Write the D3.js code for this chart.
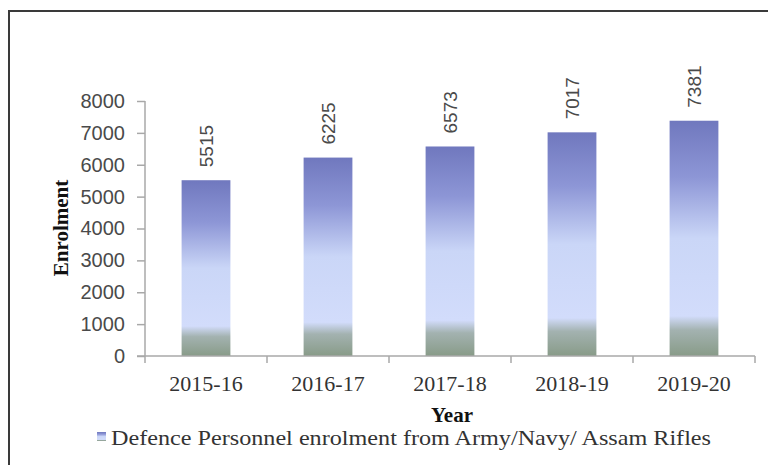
<!DOCTYPE html>
<html>
<head>
<meta charset="utf-8">
<script src="https://cdn.jsdelivr.net/npm/d3@7"></script>
<style>
  html, body { margin: 0; padding: 0; background: #fff; }
  svg { display: block; }
</style>
</head>
<body>
<svg id="chart" width="768" height="465"></svg>
<script>
const categories = ["2015-16", "2016-17", "2017-18", "2018-19", "2019-20"];
const values = [5515, 6225, 6573, 7017, 7381];
const yTicks = [0, 1000, 2000, 3000, 4000, 5000, 6000, 7000, 8000];
const seriesName = "Defence Personnel enrolment from Army/Navy/ Assam Rifles";
const xTitle = "Year";
const yTitle = "Enrolment";

const svg = d3.select("#chart");

// outer border
svg.append("rect")
  .attr("x", 9).attr("y", 11)
  .attr("width", 800).attr("height", 500)
  .attr("fill", "#fff")
  .attr("stroke", "#3a3a3a").attr("stroke-width", 2);

const defs = svg.append("defs");
const grad = defs.append("linearGradient")
  .attr("id", "barGrad")
  .attr("x1", 0).attr("y1", 0).attr("x2", 0).attr("y2", 1);
[
  [0, "#7078be"],
  [0.24, "#8d96d6"],
  [0.5, "#cad6f7"],
  [0.83, "#d2dcfb"],
  [0.89, "#a3b2b0"],
  [1, "#889b88"]
].forEach(([o, c]) => grad.append("stop").attr("offset", o).attr("stop-color", c));

const x0 = 145, x1 = 755, yTop = 101, yBase = 356;

const x = d3.scaleBand()
  .domain(categories)
  .range([x0, x1])
  .paddingInner(0.6)
  .paddingOuter(0.3);

const y = d3.scaleLinear().domain([0, 8000]).range([yBase, yTop]);

const axisColor = "#a8a8a8";

// y axis
const yAxis = svg.append("g")
  .attr("transform", `translate(${x0},0)`)
  .call(d3.axisLeft(y).tickValues(yTicks).tickSize(8).tickPadding(12).tickFormat(d3.format("d")));
yAxis.select(".domain").remove();
yAxis.selectAll(".tick line").attr("stroke", axisColor).attr("stroke-width", 1.5);
yAxis.selectAll(".tick text")
  .attr("fill", "#4a4a4a")
  .style("font-family", "'Liberation Sans', Arial, sans-serif")
  .style("font-size", "20px");
svg.append("line")
  .attr("x1", x0).attr("x2", x0)
  .attr("y1", y(8000)).attr("y2", yBase + 7)
  .attr("stroke", axisColor).attr("stroke-width", 1.5);

// bars
svg.append("g").selectAll("rect")
  .data(values)
  .join("rect")
  .attr("x", (d, i) => x(categories[i]))
  .attr("y", d => y(d))
  .attr("width", x.bandwidth())
  .attr("height", d => yBase - y(d))
  .attr("fill", "url(#barGrad)");

// x axis line and boundary ticks
svg.append("line")
  .attr("x1", x0 - 8).attr("x2", x1)
  .attr("y1", yBase).attr("y2", yBase)
  .attr("stroke", axisColor).attr("stroke-width", 1.5);
const step = x.step();
svg.append("g").selectAll("line")
  .data(categories.map((c, i) => i + 1))
  .join("line")
  .attr("x1", i => x0 + i * step).attr("x2", i => x0 + i * step)
  .attr("y1", yBase).attr("y2", yBase + 7)
  .attr("stroke", axisColor).attr("stroke-width", 1.5);

// x labels
svg.append("g").selectAll("text")
  .data(categories)
  .join("text")
  .attr("x", d => x(d) + x.bandwidth() / 2)
  .attr("y", 391)
  .attr("text-anchor", "middle")
  .attr("fill", "#333")
  .style("font-family", "'Liberation Serif', 'Times New Roman', serif")
  .style("font-size", "22px")
  .text(d => d);

// value labels
svg.append("g").selectAll("text")
  .data(values)
  .join("text")
  .attr("transform", (d, i) => `translate(${x(categories[i]) + x.bandwidth() / 2},${y(d) - 13}) rotate(-90)`)
  .attr("dy", "0.36em")
  .attr("fill", "#4a4a4a")
  .style("font-family", "'Liberation Sans', Arial, sans-serif")
  .style("font-size", "19px")
  .text(d => d);

// axis titles
svg.append("text")
  .attr("x", 452).attr("y", 422)
  .attr("text-anchor", "middle")
  .attr("fill", "#111")
  .style("font-family", "'Liberation Serif', 'Times New Roman', serif")
  .style("font-size", "21px")
  .style("font-weight", "bold")
  .text(xTitle);

svg.append("text")
  .attr("transform", "translate(68,228) rotate(-90)")
  .attr("text-anchor", "middle")
  .attr("fill", "#111")
  .style("font-family", "'Liberation Serif', 'Times New Roman', serif")
  .style("font-size", "21px")
  .style("font-weight", "bold")
  .text(yTitle);

// legend
svg.append("rect")
  .attr("x", 97).attr("y", 432)
  .attr("width", 9).attr("height", 9)
  .attr("fill", "url(#barGrad)");
svg.append("text")
  .attr("x", 111).attr("y", 445)
  .attr("fill", "#333")
  .attr("textLength", 600)
  .attr("lengthAdjust", "spacingAndGlyphs")
  .style("font-family", "'Liberation Serif', 'Times New Roman', serif")
  .style("font-size", "22px")
  .text(seriesName);
</script>
</body>
</html>
